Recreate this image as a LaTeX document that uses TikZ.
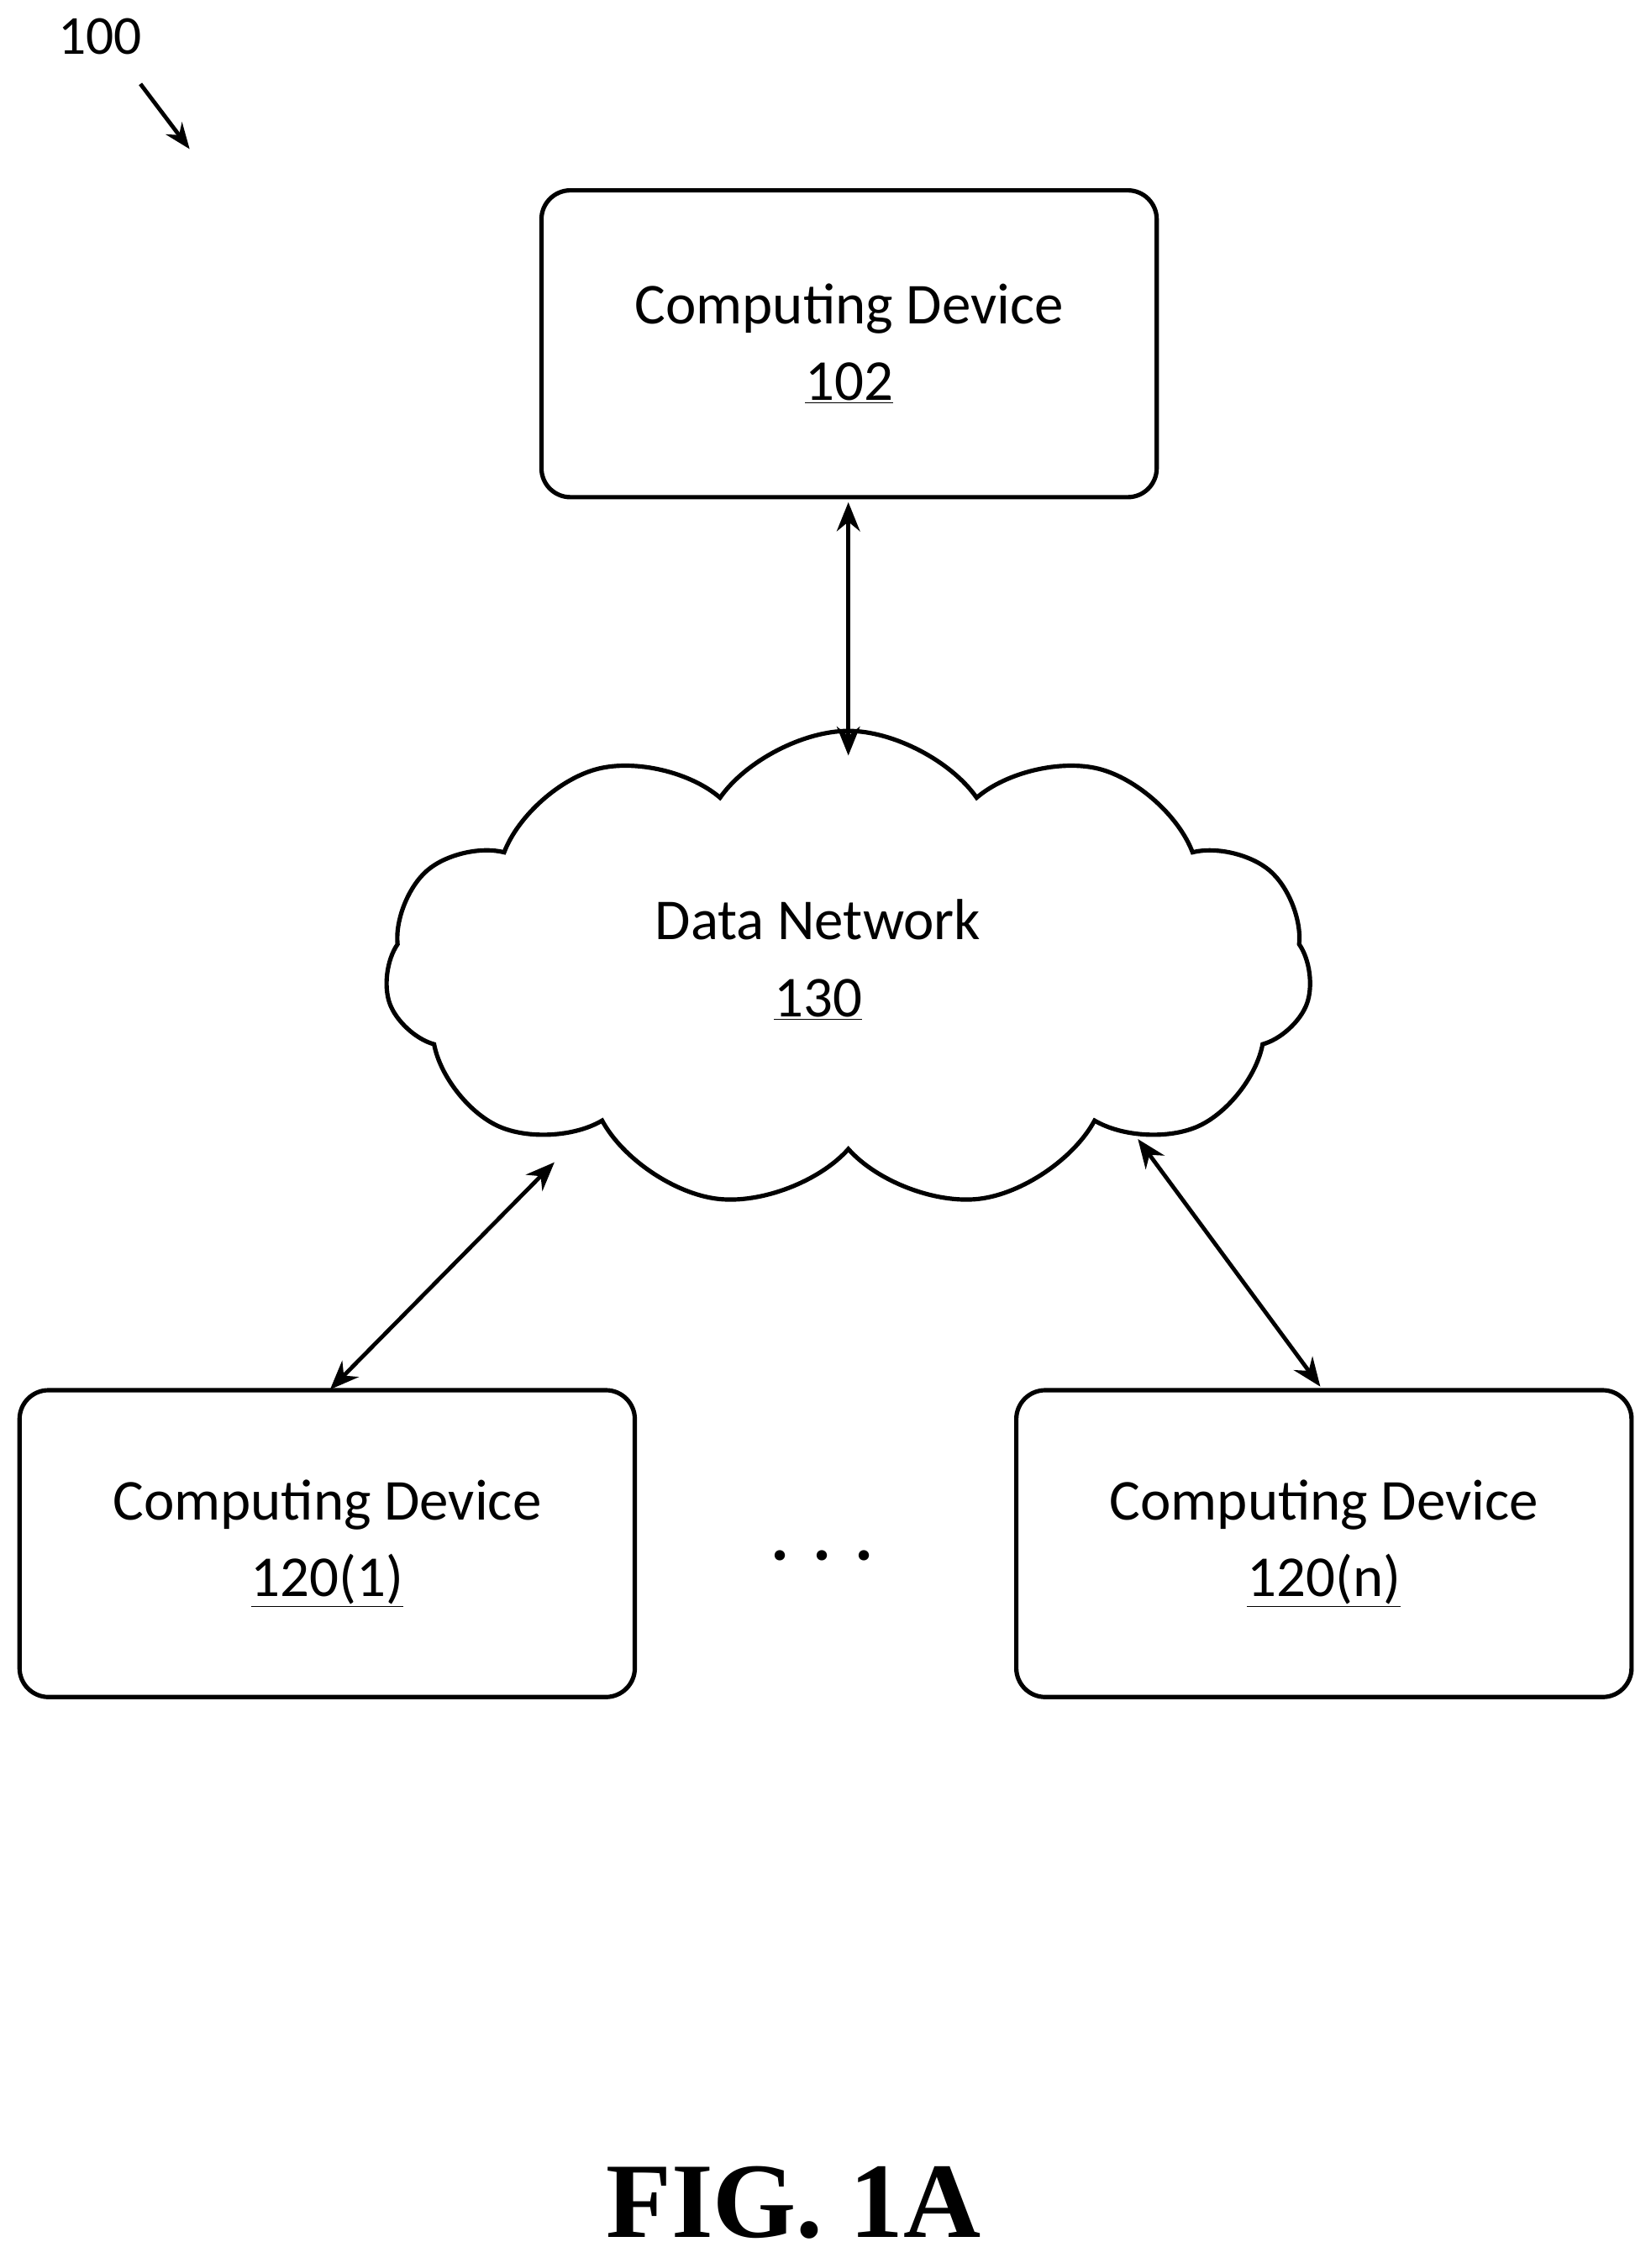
\documentclass[tikz,border=0pt]{standalone}
\usepackage{fontspec}
\setmainfont{Carlito}
\newfontfamily\figfont{Liberation Serif}
\usetikzlibrary{shapes.symbols,arrows.meta}
\begin{document}
\begin{tikzpicture}[x=1pt,y=-1pt,
  box/.style={draw,line width=3pt,rounded corners=20pt,minimum width=425pt,minimum height=212pt,align=center,font=\fontsize{40}{53}\selectfont},
  conn/.style={line width=2.8pt,{Stealth[length=20pt,width=16pt]}-{Stealth[length=20pt,width=16pt]}}]
\useasboundingbox (0,0) rectangle (1140,1567);
\node[box] (d102) at (586.5,237.5) {Computing Device\\\underline{102}};
\node[box] (d1) at (226,1066.5) {Computing Device\\\underline{120(1)}};
\node[box] (dn) at (914.5,1066.5) {Computing Device\\\underline{120(n)}};
\node[draw,line width=3pt,cloud,cloud puffs=11,cloud puff arc=110,aspect=1.9,minimum width=640pt,minimum height=330pt,inner sep=0pt] (net) at (586,670) {};
\node[align=center,font=\fontsize{40}{53}\selectfont] (netl) at (565,663) {Data Network\\\underline{130}};
\node[font=\fontsize{48}{50}\selectfont\bfseries] (dots) at (568,1075) {.\,\,.\,\,.};
\coordinate (a1) at (586,347); \coordinate (a2) at (586,522);
\draw[conn] (a1) -- (a2);
\coordinate (b1) at (228,960); \coordinate (b2) at (383,803);
\draw[conn] (b1) -- (b2);
\coordinate (c1) at (912,958); \coordinate (c2) at (786,787);
\draw[conn] (c1) -- (c2);
\node[font=\fontsize{38}{40}\selectfont] (lab) at (69,25) {100};
\coordinate (p1) at (97,58); \coordinate (p2) at (131,103);
\draw[line width=2.8pt,-{Stealth[length=18pt,width=14pt]}] (p1) -- (p2);
\node[font=\figfont\fontsize{74}{80}\selectfont\bfseries] (fig) at (548,1522) {FIG. 1A};
\end{tikzpicture}
\end{document}
